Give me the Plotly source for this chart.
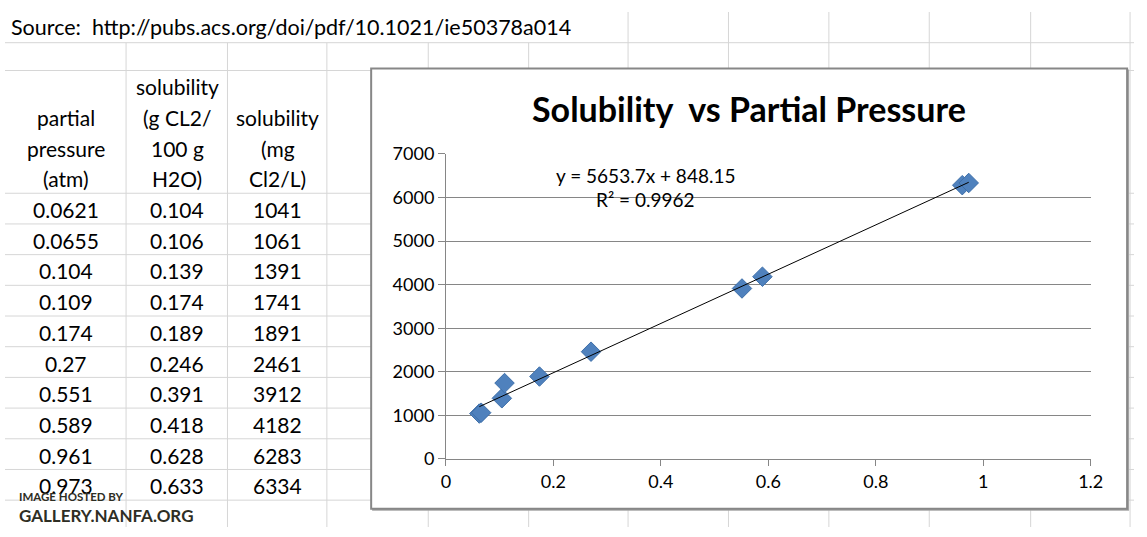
import plotly.graph_objects as go

# ---------------- data ----------------
source_text = "Source:  http://pubs.acs.org/doi/pdf/10.1021/ie50378a014"
header_pressure = ["partial", "pressure", "(atm)"]
header_sol_g = ["solubility", "(g CL2/", "100 g", "H2O)"]
header_sol_mg = ["solubility", "(mg", "Cl2/L)"]
pressure_atm = [0.0621, 0.0655, 0.104, 0.109, 0.174, 0.27, 0.551, 0.589, 0.961, 0.973]
solubility_g = [0.104, 0.106, 0.139, 0.174, 0.189, 0.246, 0.391, 0.418, 0.628, 0.633]
solubility_mg = [1041, 1061, 1391, 1741, 1891, 2461, 3912, 4182, 6283, 6334]
trend_slope = 5653.7
trend_intercept = 848.15
trend_r2 = 0.9962
chart_title = "Solubility  vs Partial Pressure"
x_ticks = [0, 0.2, 0.4, 0.6, 0.8, 1, 1.2]
y_ticks = [0, 1000, 2000, 3000, 4000, 5000, 6000, 7000]
watermark = ["IMAGE HOSTED BY", "GALLERY.NANFA.ORG"]

# ---------------- layout helpers ----------------
W, H = 1147, 537
FONT = "Lato, 'Open Sans', sans-serif"


def px(x):
    return x / W


def py(y):
    return 1 - y / H


shapes = []
annotations = []

grid_col = "#d6d6d6"
col_lines = [123, 226, 327, 430, 532, 633, 735, 837, 939, 1042, 1143]
row_lines = [32, 61, 189, 221, 253, 285, 317, 349, 381, 413, 445, 477, 509]
for x in col_lines:
    ytop = 32 if x < 565 else 0
    shapes.append(dict(type="line", xref="paper", yref="paper", layer="below",
                       x0=px(x), x1=px(x), y0=py(ytop), y1=py(H),
                       line=dict(color=grid_col, width=1)))
for y in row_lines:
    shapes.append(dict(type="line", xref="paper", yref="paper", layer="below",
                       x0=0, x1=1, y0=py(y), y1=py(y),
                       line=dict(color=grid_col, width=1)))

# chart box (shadow + box)
shapes.append(dict(type="rect", xref="paper", yref="paper", layer="below",
                   x0=px(373), x1=px(1142), y0=py(60), y1=py(520),
                   fillcolor="#a6a6a6", line=dict(width=0)))
shapes.append(dict(type="rect", xref="paper", yref="paper", layer="below",
                   x0=px(372), x1=px(1140), y0=py(59), y1=py(518),
                   fillcolor="white", line=dict(color="#878787", width=2)))

# source text
annotations.append(dict(text=source_text, xref="paper", yref="paper",
                        x=px(4), y=py(16), xanchor="left", yanchor="middle",
                        showarrow=False, font=dict(family=FONT, size=21.5, color="black")))

# table headers
col_centers = [62, 175, 277]
line_ys = [78, 110, 142, 174]
for cx, hdr in zip(col_centers, [header_pressure, header_sol_g, header_sol_mg]):
    ys = line_ys[-len(hdr):]
    for txt, yy in zip(hdr, ys):
        annotations.append(dict(text=txt, xref="paper", yref="paper",
                                x=px(cx), y=py(yy), xanchor="center", yanchor="middle",
                                showarrow=False, font=dict(family=FONT, size=21, color="black")))

# table values
for i in range(len(pressure_atm)):
    yy = 206 + 32 * i
    for cx, v in zip(col_centers, [pressure_atm[i], solubility_g[i], solubility_mg[i]]):
        annotations.append(dict(text=f"{v:g}", xref="paper", yref="paper",
                                x=px(cx), y=py(yy), xanchor="center", yanchor="middle",
                                showarrow=False, font=dict(family=FONT, size=21, color="black")))

# watermark
annotations.append(dict(text=f"<b>{watermark[0]}</b>", xref="paper", yref="paper",
                        x=px(12), y=py(505), xanchor="left", yanchor="middle",
                        showarrow=False, font=dict(family=FONT, size=11.5, color="#2e2e24")))
annotations.append(dict(text=f"<b>{watermark[1]}</b>", xref="paper", yref="paper",
                        x=px(12), y=py(525), xanchor="left", yanchor="middle",
                        showarrow=False, font=dict(family=FONT, size=17, color="#2e2e24")))

# title
annotations.append(dict(text=f"<b>{chart_title}</b>", xref="paper", yref="paper",
                        x=px(756), y=py(101), xanchor="center", yanchor="middle",
                        showarrow=False, font=dict(family=FONT, size=34, color="black")))

# equation
annotations.append(dict(text=f"y = {trend_slope}x + {trend_intercept}", xref="paper", yref="paper",
                        x=px(651), y=py(170), xanchor="center", yanchor="middle",
                        showarrow=False, font=dict(family=FONT, size=19, color="black")))
annotations.append(dict(text=f"R² = {trend_r2}", xref="paper", yref="paper",
                        x=px(651), y=py(196), xanchor="center", yanchor="middle",
                        showarrow=False, font=dict(family=FONT, size=19, color="black")))

# ---------------- traces ----------------
fig = go.Figure()
fig.add_trace(go.Scatter(
    x=pressure_atm, y=solubility_mg, mode="markers",
    marker=dict(symbol="diamond", size=15, color="#4F81BD",
                line=dict(color="#3E6FA9", width=1)),
    hoverinfo="x+y"))
x_tr = [min(pressure_atm), max(pressure_atm)]
y_tr = [trend_slope * v + trend_intercept for v in x_tr]
fig.add_trace(go.Scatter(x=x_tr, y=y_tr, mode="lines",
                         line=dict(color="black", width=1), hoverinfo="skip"))

axis_col = "#868686"
fig.update_layout(
    width=W, height=H,
    margin=dict(l=0, r=0, t=0, b=0, pad=0),
    paper_bgcolor="white", plot_bgcolor="rgba(0,0,0,0)",
    showlegend=False,
    font=dict(family=FONT, color="black"),
    xaxis=dict(domain=[px(448), px(1103)], range=[0, 1.2],
               tickmode="array", tickvals=x_ticks, ticktext=[f"{t:g}" for t in x_ticks],
               showgrid=False, zeroline=False, showline=True, linecolor=axis_col, linewidth=1,
               ticks="outside", ticklen=6, tickcolor=axis_col,
               tickfont=dict(family=FONT, size=18, color="black")),
    yaxis=dict(domain=[py(466), py(148)], range=[0, 7000],
               tickmode="array", tickvals=y_ticks, ticktext=[str(t) for t in y_ticks],
               showgrid=True, gridcolor=axis_col, gridwidth=1,
               zeroline=False, showline=True, linecolor=axis_col, linewidth=1,
               ticks="outside", ticklen=7, tickcolor=axis_col,
               tickfont=dict(family=FONT, size=18, color="black")),
    shapes=shapes, annotations=annotations,
)

fig.write_html(
    "out.html",
    post_script="document.body.style.margin='0px';document.body.style.overflow='hidden';",
)
